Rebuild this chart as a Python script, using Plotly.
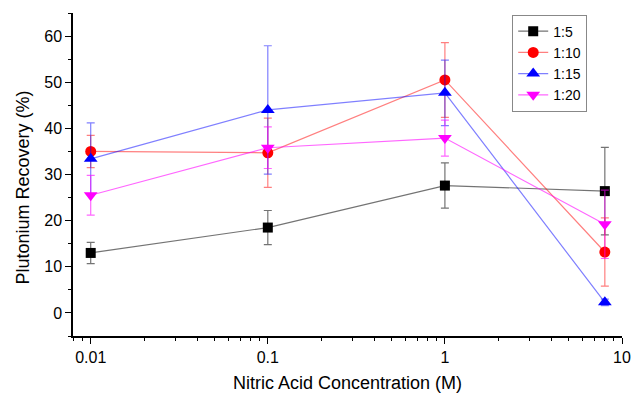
import plotly.graph_objects as go

conc = [0.01, 0.1, 1, 8]
series_names = ["1:5", "1:10", "1:15", "1:20"]
r5 = [13.0, 18.5, 27.6, 26.4]
r5_err = [2.3, 3.7, 4.9, 9.5]
r10 = [35.0, 34.7, 50.5, 13.2]
r10_err = [3.5, 7.5, 8.1, 7.4]
r15 = [33.4, 44.0, 47.7, 2.3]
r15_err = [7.8, 13.9, 7.1, 0.7]
r20 = [25.5, 35.8, 37.9, 19.2]
r20_err = [4.3, 4.5, 3.9, 7.4]

x_ticks = [0.01, 0.1, 1, 10]
x_ticktext = ["0.01", "0.1", "1", "10"]
x_title = "Nitric Acid Concentration (M)"
y_title = "Plutonium Recovery (%)"

values = [r5, r10, r15, r20]
errors = [r5_err, r10_err, r15_err, r20_err]
marker_colors = ["black", "red", "blue", "magenta"]
line_colors = ["rgba(0,0,0,0.55)", "rgba(255,0,0,0.5)", "rgba(0,0,255,0.5)", "rgba(255,0,255,0.6)"]
symbols = ["square", "circle", "triangle-up", "triangle-down"]
sizes = [10, 11, 12, 12]

fig = go.Figure()
for name, y, e, mc, lc, sym, sz in zip(series_names, values, errors, marker_colors, line_colors, symbols, sizes):
    fig.add_trace(go.Scatter(
        x=conc, y=y, name=name, mode="lines+markers",
        line=dict(color=lc, width=1.2),
        marker=dict(color=mc, symbol=sym, size=sz, line=dict(width=0)),
        error_y=dict(type="data", array=e, visible=True, color=lc, thickness=1.2, width=4),
    ))

fig.update_layout(
    width=631, height=397,
    margin=dict(l=73, r=9, t=13, b=61),
    paper_bgcolor="white", plot_bgcolor="white",
    font=dict(family="Liberation Sans, Arial, sans-serif", size=16, color="black"),
    showlegend=True,
    legend=dict(
        x=0.8, y=0.995, xanchor="left", yanchor="top",
        bordercolor="#888888", borderwidth=1, bgcolor="white",
        font=dict(size=14), tracegroupgap=0, itemwidth=30,
    ),
    annotations=[
        dict(text=x_title, xref="paper", yref="paper", x=0.5, y=0, yanchor="middle",
             yshift=-47, showarrow=False, font=dict(size=18)),
        dict(text=y_title, xref="paper", yref="paper", x=0, y=0.5, xanchor="center",
             xshift=-51, yshift=-13, textangle=-90, showarrow=False, font=dict(size=18)),
    ],
)
fig.update_xaxes(
    type="log", range=[-2.1, 1], automargin=False,
    tickvals=x_ticks, ticktext=x_ticktext,
    ticks="outside", ticklen=6, tickwidth=1.2, tickcolor="black",
    minor=dict(ticks="outside", ticklen=3, tickwidth=1, tickcolor="black", dtick="D1", showgrid=False),
    showline=True, linecolor="black", linewidth=1.5, showgrid=False, zeroline=False,
)
fig.update_yaxes(
    range=[-5, 65], dtick=10, tick0=0, automargin=False,
    ticks="outside", ticklen=6, tickwidth=1.2, tickcolor="black",
    minor=dict(ticks="outside", ticklen=3, tickwidth=1, tickcolor="black", dtick=5, tick0=0, showgrid=False),
    showline=True, linecolor="black", linewidth=1.5, showgrid=False, zeroline=False,
)

fig.write_html(
    "out.html",
    config={"displayModeBar": False},
    post_script="document.body.style.margin='0';document.body.style.overflow='hidden';",
)
